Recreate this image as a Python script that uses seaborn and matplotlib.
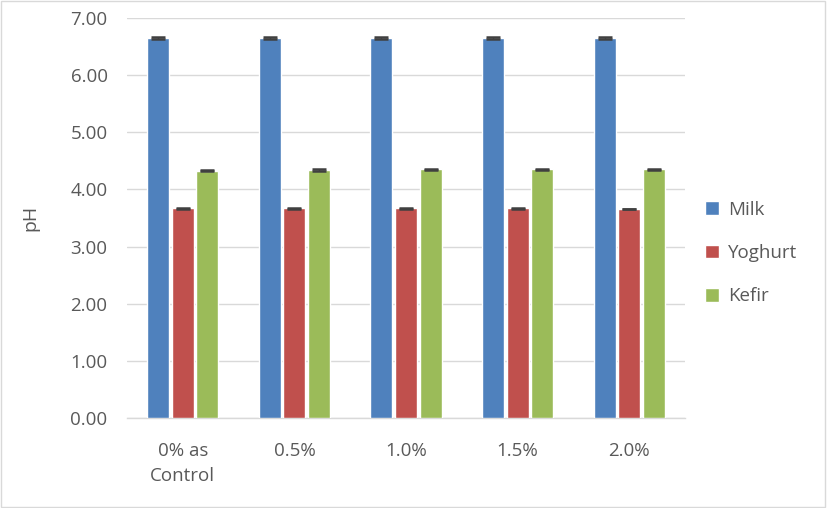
import matplotlib
matplotlib.use("Agg")
import matplotlib.pyplot as plt
import seaborn as sns
import pandas as pd
import numpy as np
from matplotlib.patches import Rectangle

categories = ["0% as\nControl", "0.5%", "1.0%", "1.5%", "2.0%"]
series = ["Milk", "Yoghurt", "Kefir"]
milk = [6.65, 6.65, 6.65, 6.65, 6.65]
yoghurt = [3.67, 3.67, 3.67, 3.67, 3.66]
kefir = [4.33, 4.34, 4.35, 4.35, 4.35]
milk_err = [0.01, 0.01, 0.01, 0.01, 0.01]
yoghurt_err = [0.005, 0.005, 0.005, 0.005, 0.005]
kefir_err = [0.01, 0.01, 0.01, 0.01, 0.01]
colors = ["#4F81BD", "#C0504D", "#9BBB59"]
yticks = [0, 1, 2, 3, 4, 5, 6, 7]

rows = []
for s, vals, errs in zip(series, [milk, yoghurt, kefir], [milk_err, yoghurt_err, kefir_err]):
    for c, v, e in zip(categories, vals, errs):
        rows.append({"Concentration": c, "Sample": s, "pH": v, "err": e})
df = pd.DataFrame(rows)

sns.set_theme(style="white")
plt.rcParams['font.family'] = ['Open Sans', 'DejaVu Sans']
text_color = "#595959"

fig = plt.figure(figsize=(8.27, 5.08), dpi=100)
ax = fig.add_axes([127/827, 1-418/508, (685-127)/827, (418-18)/508])

sns.barplot(data=df, x="Concentration", y="pH", hue="Sample", order=categories,
            hue_order=series, palette=colors, width=0.66, gap=0.1,
            errorbar=None, ax=ax, saturation=1, zorder=3)

# error bars from the bar patches
for bar_container, s in zip(ax.containers, series):
    sub = df[df["Sample"] == s].set_index("Concentration").loc[categories]
    xs = [p.get_x() + p.get_width()/2 for p in bar_container.patches]
    ax.errorbar(xs, sub["pH"].values, yerr=sub["err"].values, fmt="none",
                ecolor="#404040", elinewidth=1, capsize=5, capthick=1.8, zorder=4)

ax.set_ylim(0, 7)
ax.set_xlim(-0.5, 4.5)
ax.set_yticks(yticks)
ax.set_yticklabels([f"{v:.2f}" for v in yticks], color=text_color, fontsize=13.5)
ax.set_xticklabels(categories, color=text_color, fontsize=13.5, linespacing=1.55)
ax.tick_params(axis="y", length=0, pad=14)
ax.tick_params(axis="x", length=0, pad=17)
ax.yaxis.grid(True, color="#D9D9D9", linewidth=1, zorder=0)
ax.set_axisbelow(True)
for sp in ["left", "right", "top"]:
    ax.spines[sp].set_visible(False)
ax.spines["bottom"].set_color("#D9D9D9")
ax.spines["bottom"].set_linewidth(1)
ax.set_xlabel("")
ax.set_ylabel("pH", color=text_color, fontsize=14, labelpad=22)

handles, labels = ax.get_legend_handles_labels()
ax.legend_.remove()
fig.legend(handles, labels, loc="center left", bbox_to_anchor=(688/827, 1-253/508),
           frameon=False, fontsize=13.5, labelcolor=text_color, handlelength=0.75,
           handleheight=0.75, labelspacing=1.35, handletextpad=0.5)

fig.patches.append(Rectangle((0.001, 0.001), 0.997, 0.997, transform=fig.transFigure,
                             fill=False, edgecolor="#D9D9D9", linewidth=1))

fig.savefig("out.png", dpi=100)
